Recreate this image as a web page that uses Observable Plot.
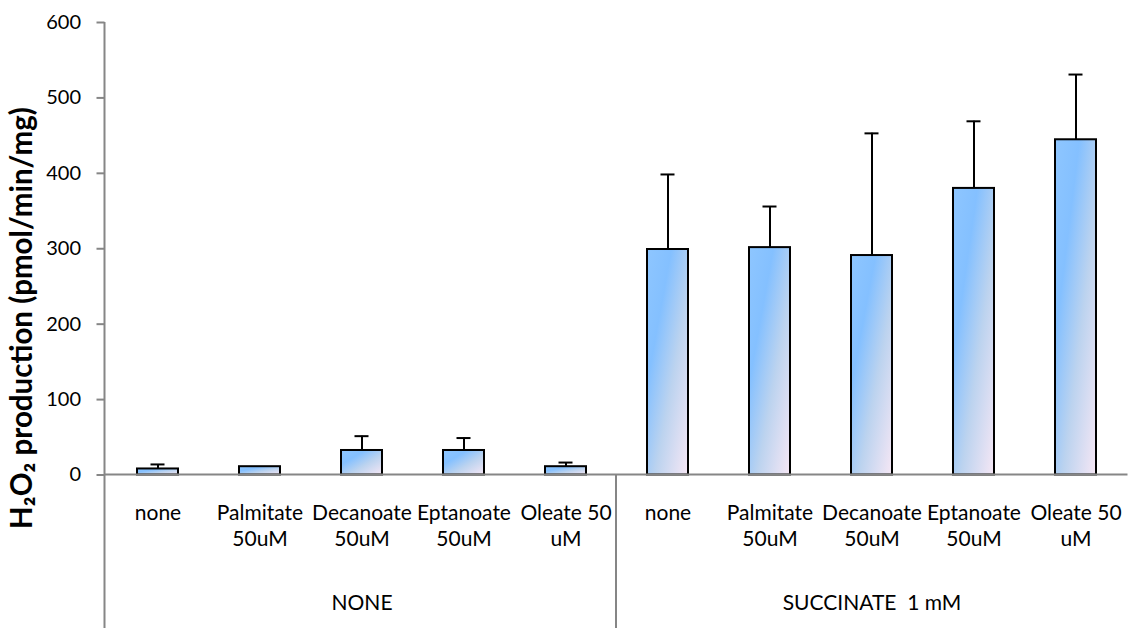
<!DOCTYPE html>
<html>
<head>
<meta charset="utf-8">
<script src="https://cdn.jsdelivr.net/npm/d3@7"></script>
<script src="https://cdn.jsdelivr.net/npm/@observablehq/plot@0.6"></script>
<style>
  html, body { margin: 0; padding: 0; background: #ffffff; }
  #chart { width: 1129px; height: 628px; }
</style>
</head>
<body>
<div id="chart"></div>
<script>
// ---- data ----
const groups = ["NONE", "SUCCINATE  1 mM"];
const categories = ["none", "Palmitate\n50uM", "Decanoate\n50uM", "Eptanoate\n50uM", "Oleate 50\nuM"];
const valuesNone = [8, 11, 32.5, 32.5, 11];
const errorsNone = [6, 0, 19, 16.5, 5.5];
const valuesSuccinate = [299, 301.5, 291, 380, 444.5];
const errorsSuccinate = [99.5, 54.5, 162, 89, 86.5];
const yTicks = [0, 100, 200, 300, 400, 500, 600];
const yTitle = "H\u2082O\u2082 production (pmol/min/mg)";

const series = [valuesNone, valuesSuccinate];
const errors = [errorsNone, errorsSuccinate];

const rows = [];
groups.forEach((g, gi) => categories.forEach((c, ci) => {
  rows.push({key: gi + "-" + ci, group: g, cat: c, value: series[gi][ci], err: errors[gi][ci]});
}));
const keys = rows.map(d => d.key);
const catOf = new Map(rows.map(d => [d.key, d.cat]));
const errRows = rows.filter(d => d.err > 0);
const groupRows = groups.map((g, gi) => ({group: g, key: gi + "-" + Math.floor(categories.length / 2)}));

const PAD_IN = 0.6, PAD_OUT = 0.3;
const AXIS_GRAY = "#868686";
const FONT = "Lato, 'Open Sans', sans-serif";

function gradientDefs() {
  const defs = d3.create("svg:defs");
  const lg = defs.append("linearGradient")
    .attr("id", "barGrad")
    .attr("x1", 0).attr("y1", 0).attr("x2", 1).attr("y2", 1);
  [[0, "#8ec6ff"], [0.3, "#84c0ff"], [0.6, "#bcd3ef"], [1, "#f6e7f5"]].forEach(([o, c]) =>
    lg.append("stop").attr("offset", o).attr("stop-color", c));
  return defs.node();
}

function guides(index, scales, values, dims) {
  const {width, height, marginLeft, marginRight} = dims;
  const band = d3.scaleBand(keys, [marginLeft, width - marginRight]).paddingInner(PAD_IN).paddingOuter(PAD_OUT);
  const y0 = scales.y(0);
  const yTop = scales.y(d3.max(yTicks));
  const g = d3.create("svg:g").attr("stroke", AXIS_GRAY).attr("stroke-width", 2).attr("fill", "none");
  g.append("line").attr("x1", marginLeft).attr("x2", marginLeft).attr("y1", yTop).attr("y2", height);
  g.append("line").attr("x1", marginLeft).attr("x2", width - marginRight).attr("y1", y0).attr("y2", y0);
  for (let gi = 1; gi < groups.length; gi++) {
    const k = keys[gi * categories.length];
    const sx = band(k) - band.step() * PAD_IN / 2;
    g.append("line").attr("x1", sx).attr("x2", sx).attr("y1", y0).attr("y2", height);
  }
  return g.node();
}

function titleMark(index, scales, values, dims) {
  const cy = (dims.marginTop + dims.height) / 2 - 7;
  const t = d3.create("svg:text")
    .attr("transform", `translate(22,${cy}) rotate(-90)`)
    .attr("text-anchor", "middle")
    .attr("dy", "0.35em")
    .attr("font-family", FONT)
    .attr("font-size", 29.5)
    .attr("font-weight", "bold")
    .attr("fill", "#000")
    .text(yTitle);
  return t.node();
}

const chart = Plot.plot({
  width: 1129,
  height: 628,
  marginLeft: 104.5,
  marginRight: 1.5,
  marginTop: 22,
  marginBottom: 153.5,
  style: {fontFamily: FONT, fontSize: "21px", color: "#000", background: "#ffffff", whiteSpace: "pre"},
  x: {domain: keys, paddingInner: PAD_IN, paddingOuter: PAD_OUT, axis: null},
  y: {domain: [0, 600], axis: null},
  marks: [
    gradientDefs,
    Plot.axisY({ticks: yTicks, tickSize: 8, tickPadding: 16, stroke: AXIS_GRAY, strokeWidth: 2, fontSize: 20, label: null}),
    Plot.axisX({tickSize: 0, tickPadding: 26.5, tickFormat: k => catOf.get(k), fontSize: 21, lineHeight: 1.24, label: null}),
    Plot.ruleX(errRows, {x: "key", y1: "value", y2: d => d.value + d.err, stroke: "#000", strokeWidth: 2}),
    Plot.tickY(errRows, {x: "key", y: d => d.value + d.err, stroke: "#000", strokeWidth: 2, insetLeft: 13.5, insetRight: 13.5}),
    Plot.barY(rows, {x: "key", y: "value", fill: "url(#barGrad)", stroke: "#000", strokeWidth: 2}),
    guides,
    Plot.text(groupRows, {x: "key", text: "group", frameAnchor: "bottom", dy: 135, fontSize: 21, fill: "#000"}),
    titleMark
  ]
});
document.getElementById("chart").appendChild(chart);
</script>
</body>
</html>
